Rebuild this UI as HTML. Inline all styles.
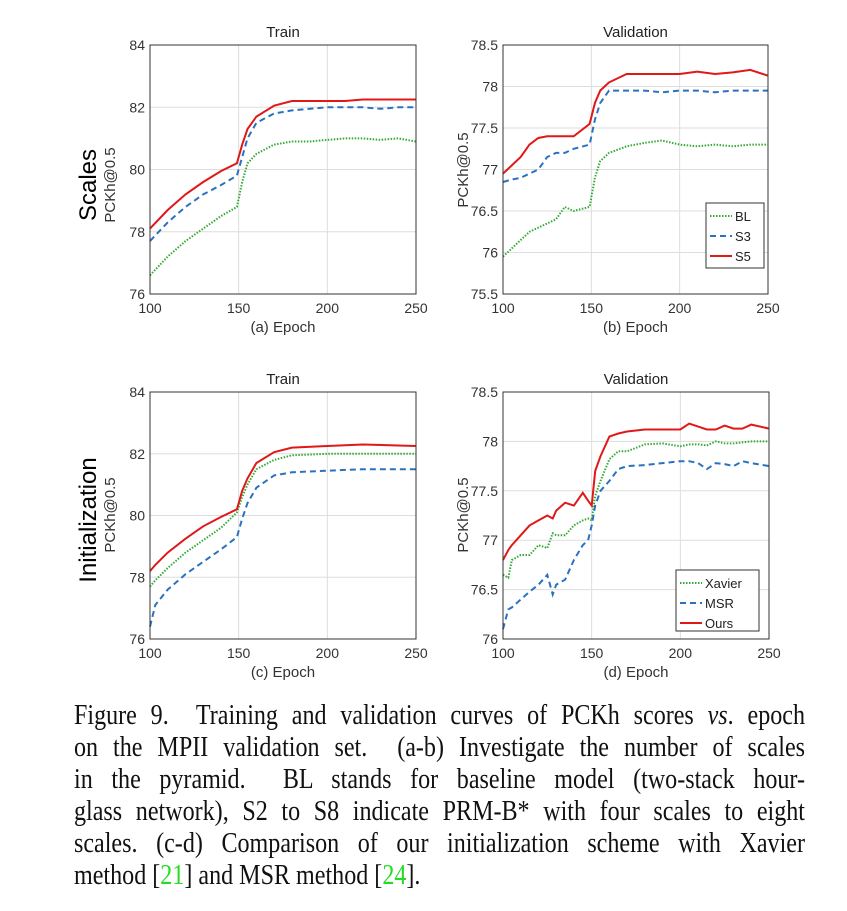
<!DOCTYPE html>
<html><head><meta charset="utf-8">
<style>
body{margin:0;background:#fff;width:847px;height:911px;overflow:hidden;position:relative;font-family:"Liberation Sans",sans-serif}
svg{position:absolute;left:0;top:0}
.cap{position:absolute;left:74px;width:850px;font-family:"Liberation Serif",serif;font-size:28px;color:#111;text-align:justify;text-align-last:justify;white-space:nowrap;line-height:32px;transform:scaleX(0.86);transform-origin:0 0}
.cap.last{text-align-last:left}
.g{color:#22dd22}
</style></head><body>
<svg id="fig" width="847" height="700"></svg>
<div class="cap" style="top:700px">Figure 9.&nbsp; Training and validation curves of PCKh scores <i>vs</i>. epoch</div>
<div class="cap" style="top:732px">on the MPII validation set.&nbsp; (a-b) Investigate the number of scales</div>
<div class="cap" style="top:764px">in the pyramid.&nbsp; BL stands for baseline model (two-stack hour-</div>
<div class="cap" style="top:796px">glass network), S2 to S8 indicate PRM-B* with four scales to eight</div>
<div class="cap" style="top:828px">scales. (c-d) Comparison of our initialization scheme with Xavier</div>
<div class="cap last" style="top:860px">method [<span class="g">21</span>] and MSR method [<span class="g">24</span>].</div>
<script>
// ---- data ----
const aEpochs=[100,110,120,130,140,149,152,155,160,170,180,190,200,210,220,230,240,250];
const aBL=[76.6,77.2,77.7,78.1,78.5,78.8,79.6,80.2,80.5,80.8,80.9,80.9,80.95,81,81,80.95,81,80.9];
const aS3=[77.7,78.3,78.8,79.2,79.5,79.8,80.4,81,81.5,81.8,81.9,81.95,82,82,82,81.95,82,82];
const aS5=[78.1,78.7,79.2,79.6,79.95,80.2,80.8,81.3,81.7,82.05,82.2,82.2,82.2,82.2,82.25,82.25,82.25,82.25];
const bEpochs=[100,105,110,115,120,125,130,135,140,149,152,155,160,170,180,190,200,210,220,230,240,250];
const bBL=[75.95,76.05,76.15,76.25,76.3,76.35,76.4,76.55,76.5,76.55,76.9,77.1,77.2,77.28,77.32,77.35,77.3,77.28,77.3,77.28,77.3,77.3];
const bS3=[76.85,76.88,76.9,76.95,77.0,77.15,77.2,77.2,77.25,77.3,77.6,77.8,77.95,77.95,77.95,77.93,77.95,77.95,77.93,77.95,77.95,77.95];
const bS5=[76.95,77.05,77.15,77.3,77.38,77.4,77.4,77.4,77.4,77.55,77.8,77.95,78.05,78.15,78.15,78.15,78.15,78.18,78.15,78.17,78.2,78.13];
const cEpochs=[100,103,110,120,130,140,149,152,155,160,170,180,200,220,250];
const cXavier=[77.7,77.9,78.3,78.8,79.2,79.6,80.1,80.6,81.0,81.5,81.8,81.95,82,82,82];
const cMSR=[76.4,77.1,77.6,78.1,78.5,78.9,79.3,79.9,80.4,80.9,81.3,81.4,81.45,81.5,81.5];
const cOurs=[78.2,78.4,78.8,79.25,79.65,79.95,80.2,80.8,81.2,81.7,82.05,82.2,82.25,82.3,82.25];
const dEpochs=[100,103,105,110,115,120,125,128,130,135,140,145,148,150,152,155,160,165,170,180,190,200,205,210,215,220,225,230,235,240,250];
const dXavier=[76.65,76.62,76.8,76.85,76.85,76.95,76.92,77.07,77.05,77.05,77.15,77.2,77.22,77.2,77.45,77.6,77.82,77.9,77.9,77.97,77.98,77.95,77.97,77.97,77.96,78.0,77.98,77.98,77.99,78.0,78.0];
const dMSR=[76.1,76.3,76.32,76.4,76.48,76.55,76.65,76.45,76.55,76.6,76.8,76.95,77.0,77.15,77.35,77.5,77.6,77.72,77.75,77.76,77.78,77.8,77.8,77.78,77.72,77.78,77.77,77.75,77.8,77.78,77.75];
const dOurs=[76.8,76.9,76.95,77.05,77.15,77.2,77.25,77.22,77.3,77.38,77.35,77.48,77.4,77.35,77.7,77.85,78.05,78.08,78.1,78.12,78.12,78.12,78.18,78.15,78.12,78.12,78.16,78.13,78.13,78.17,78.13];
const xTicks=[100,150,200,250];
const yTicksA=[76,78,80,82,84];
const yTicksB=[75.5,76,76.5,77,77.5,78,78.5];
const yTicksD=[76,76.5,77,77.5,78,78.5];
const namesB=["BL","S3","S5"];
const namesD=["Xavier","MSR","Ours"];

const NS="http://www.w3.org/2000/svg";
const svg=document.getElementById('fig');
function mk(tag,attrs,parent,name){const e=document.createElementNS(NS,tag);for(const k in attrs)e.setAttribute(k,attrs[k]);(parent||svg).appendChild(e);


return e;}
function txt(x,y,s,opts,name){const t=mk('text',Object.assign({x:x,y:y,'font-size':14,fill:'#333','text-anchor':'middle','font-family':'Liberation Sans, sans-serif'},opts||{}),svg,name);t.textContent=s;return t;}
const styles=[{stroke:'#33aa33','stroke-dasharray':'1.5,1.5','stroke-width':2},{stroke:'#2a72c0','stroke-dasharray':'6,4','stroke-width':2},{stroke:'#e01818','stroke-width':2}];
function plot(p){
  const {x0,x1,y0,y1,ymin,ymax,yt,epochs,series,title,xl,names,leg,fmt}=p;
  const sx=v=>x0+(v-100)/(250-100)*(x1-x0);
  const sy=v=>y1-(v-ymin)/(ymax-ymin)*(y1-y0);
  for(const t of xTicks){mk('line',{x1:sx(t),x2:sx(t),y1:y0,y2:y1,stroke:'#ddd','stroke-width':1},svg,'x-grid-line');
    txt(sx(t),y1+19,String(t),{},'x-tick-label');}
  for(const t of yt){mk('line',{x1:x0,x2:x1,y1:sy(t),y2:sy(t),stroke:'#ddd','stroke-width':1},svg,'y-grid-line');
    txt(x0-5,sy(t)+5,fmt(t),{'text-anchor':'end'},'y-tick-label');}
  series.forEach((s,i)=>{
    const pts=epochs.map((e,j)=>sx(e).toFixed(1)+','+sy(s[j]).toFixed(1)).join(' ');
    mk('polyline',Object.assign({points:pts,fill:'none'},styles[i]),svg,'series-'+names[i].toLowerCase());
  });
  mk('rect',{x:x0,y:y0,width:x1-x0,height:y1-y0,fill:'none',stroke:'#333','stroke-width':1},svg,'plot-frame');
  txt((x0+x1)/2,y0-8,title,{fill:'#222','font-size':15},'plot-title');
  txt((x0+x1)/2,y1+38,xl,{'font-size':15},'x-axis-title');
  if(leg){
    mk('rect',{x:leg.x,y:leg.y,width:leg.w,height:leg.h,fill:'#fff',stroke:'#333','stroke-width':1},svg,'legend-box');
    names.forEach((n,i)=>{const yy=leg.y+13+i*20;
      mk('line',Object.assign({x1:leg.x+4,x2:leg.x+26,y1:yy,y2:yy},styles[i]),svg,'legend-swatch');
      txt(leg.x+29,yy+5,n,{'text-anchor':'start','font-size':13,fill:'#222'},'legend-entry');});
  }
}
const f0=v=>String(v), f1=v=>Number.isInteger(v)?String(v):v.toFixed(1);
plot({x0:150,x1:416,y0:45,y1:294,ymin:76,ymax:84,yt:yTicksA,epochs:aEpochs,series:[aBL,aS3,aS5],title:'Train',xl:'(a) Epoch',names:namesB,fmt:f0});
plot({x0:503,x1:768,y0:45,y1:294,ymin:75.5,ymax:78.5,yt:yTicksB,epochs:bEpochs,series:[bBL,bS3,bS5],title:'Validation',xl:'(b) Epoch',names:namesB,fmt:f1,leg:{x:706,y:203,w:58,h:65}});
plot({x0:150,x1:416,y0:392,y1:639,ymin:76,ymax:84,yt:yTicksA,epochs:cEpochs,series:[cXavier,cMSR,cOurs],title:'Train',xl:'(c) Epoch',names:namesD,fmt:f0});
plot({x0:503,x1:769,y0:392,y1:639,ymin:76,ymax:78.5,yt:yTicksD,epochs:dEpochs,series:[dXavier,dMSR,dOurs],title:'Validation',xl:'(d) Epoch',names:namesD,fmt:f1,leg:{x:676,y:570,w:83,h:61}});
function vt(x,y,s,size,fill,name){const t=txt(x,y,s,{'font-size':size,fill:fill,transform:`rotate(-90 ${x} ${y})`},name);}
vt(96,185,'Scales',24,'#000','row-label-scales');
vt(115,185,'PCKh@0.5',15,'#333','y-axis-title-a');
vt(468,170,'PCKh@0.5',15,'#333','y-axis-title-b');
vt(96,520,'Initialization',24,'#000','row-label-initialization');
vt(115,515,'PCKh@0.5',15,'#333','y-axis-title-c');
vt(468,515,'PCKh@0.5',15,'#333','y-axis-title-d');
</script>
</body></html>
